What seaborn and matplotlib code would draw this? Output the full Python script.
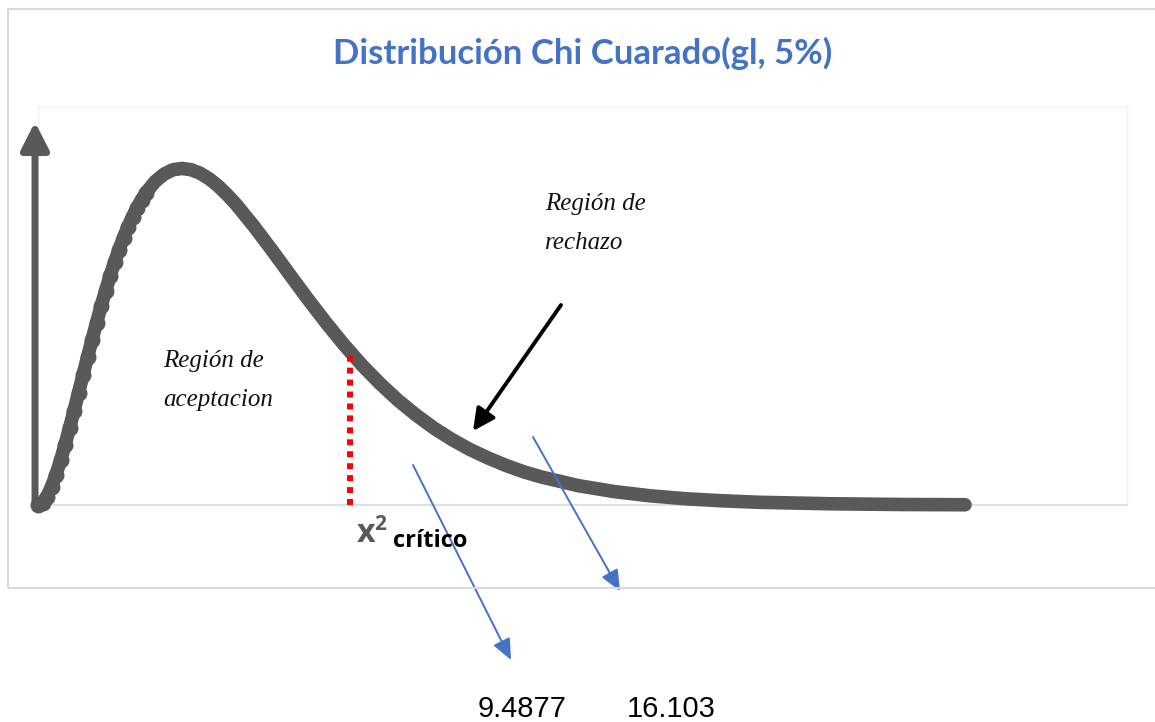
import matplotlib
matplotlib.use('Agg')
import matplotlib.pyplot as plt
import seaborn as sns
from matplotlib.patches import Rectangle

# curve (x in chi-square units, y = density)
chi_x = [0, 0.125, 0.25, 0.375, 0.5, 0.625, 0.75, 0.875, 1.0, 1.125, 1.25, 1.375,
         1.5, 1.625, 1.75, 1.875, 2.0, 2.125, 2.25, 2.375, 2.5, 2.625, 2.75, 2.875,
         3.0, 3.25, 3.5, 3.75, 4.0, 4.25, 4.5, 4.75, 5.0, 5.25, 5.5, 6.0, 6.5, 7.0,
         7.5, 8.0, 8.5, 9.0, 9.5, 10, 10.5, 11, 11.5, 12, 12.5, 13, 13.5, 14, 15,
         16, 17, 18, 19, 20, 22, 24, 25.75]
chi_y = [0, 0.0009, 0.0034, 0.0073, 0.0122, 0.0179, 0.0242, 0.0309, 0.0379, 0.0451,
         0.0523, 0.0594, 0.0664, 0.0732, 0.0798, 0.0860, 0.0920, 0.0975, 0.1027,
         0.1075, 0.1119, 0.1159, 0.1195, 0.1227, 0.1255, 0.1300, 0.1330, 0.1348,
         0.1353, 0.1348, 0.1334, 0.1312, 0.1283, 0.1248, 0.1209, 0.1120, 0.1024,
         0.0925, 0.0827, 0.0733, 0.0644, 0.0562, 0.0488, 0.0421, 0.0362, 0.0309,
         0.0263, 0.0223, 0.0189, 0.0159, 0.0133, 0.0112, 0.0078, 0.0054, 0.0037,
         0.0025, 0.0017, 0.0011, 0.0005, 0.0002, 0.0001]

crit_x = 8.67
crit_y = 0.0615
value_labels = ['9.4877', '16.103']

title = 'Distribución Chi Cuarado(gl, 5%)'
accept_lines = ['Región de', 'aceptacion']
reject_lines = ['Región de', 'rechazo']

W, H = 1155, 722
grey = '#595959'
blue = '#4472C4'


def P(x, y):
    # image pixel (top-left origin) -> figure pixels
    return (x, H - y)


sns.set_style('white')
fig = plt.figure(figsize=(W / 100, H / 100), dpi=100)

# outer chart frame
fig.patches.append(Rectangle((8 / W, 1 - 588 / H), 1.2, (588 - 9) / H,
                             transform=fig.transFigure, fill=False,
                             edgecolor='#d9d9d9', lw=1.5))

ax = fig.add_axes([38 / W, 1 - 505 / H, (1127 - 38) / W, (505 - 107) / H])

sns.lineplot(x=chi_x, y=chi_y, ax=ax, color=grey, linewidth=9.8, marker='o',
             markersize=11.5, markeredgewidth=0, markevery=slice(0, 25),
             solid_capstyle='round', solid_joinstyle='round', clip_on=False,
             zorder=3)

ax.vlines(crit_x, 0, crit_y, colors='red', lw=4.3, linestyles=(0, (1, 1)),
          zorder=4)

ax.set_xlim(0, 30.25)
ax.set_ylim(0, 0.16)
ax.set_xticks([])
ax.set_yticks([])
for side in ['top', 'right', 'left']:
    ax.spines[side].set_color('#eef0f4')
    ax.spines[side].set_linewidth(1)
ax.spines['bottom'].set_color('#d6dce5')
ax.spines['bottom'].set_linewidth(1.2)

# vertical axis arrow
ax.annotate('', xy=P(35, 122), xytext=P(35, 503), xycoords='figure pixels',
            textcoords='figure pixels',
            arrowprops=dict(arrowstyle='-|>,head_length=0.55,head_width=0.28',
                            lw=5, color=grey, mutation_scale=30,
                            shrinkA=0, shrinkB=0), annotation_clip=False)

# black arrow to rejection region
ax.annotate('', xy=P(473, 431), xytext=P(561, 305), xycoords='figure pixels',
            textcoords='figure pixels',
            arrowprops=dict(arrowstyle='-|>,head_length=0.6,head_width=0.3',
                            lw=2.8, color='black', mutation_scale=22,
                            shrinkA=0, shrinkB=0), annotation_clip=False)

# blue arrows to the values
for start, end in [((413, 465), (511, 660)), ((533, 437), (620, 591))]:
    ax.annotate('', xy=P(*end), xytext=P(*start), xycoords='figure pixels',
                textcoords='figure pixels',
                arrowprops=dict(arrowstyle='-|>,head_length=0.8,head_width=0.35',
                                lw=1.4, color=blue, mutation_scale=16,
                                shrinkA=0, shrinkB=0), annotation_clip=False)

fig.text(583 / W, 1 - 53 / H, title, ha='center', va='center', fontsize=25,
         fontweight='bold', color=blue, family='Lato')

for lines, x0, y0 in [(accept_lines, 163, 367), (reject_lines, 545, 210)]:
    for i, line in enumerate(lines):
        fig.text(x0 / W, 1 - (y0 + 39 * i) / H, line, ha='left', va='baseline',
                 fontsize=18, style='italic', family='Liberation Serif',
                 color='#111111')

fig.text(357 / W, 1 - 542 / H, 'x', ha='left', va='baseline', fontsize=23,
         fontweight='bold', color=grey, family='Open Sans')
fig.text(374 / W, 1 - 530 / H, '2', ha='left', va='baseline', fontsize=15,
         fontweight='bold', color=grey, family='Open Sans')
fig.text(393 / W, 1 - 547 / H, 'crítico', ha='left', va='baseline',
         fontsize=17, fontweight='bold', color='black', family='Open Sans')

for label, cx in zip(value_labels, [522, 671]):
    fig.text(cx / W, 1 - 717 / H, label, ha='center', va='baseline',
             fontsize=21, color='black', family='Liberation Sans')

fig.savefig('out.png', dpi=100)
